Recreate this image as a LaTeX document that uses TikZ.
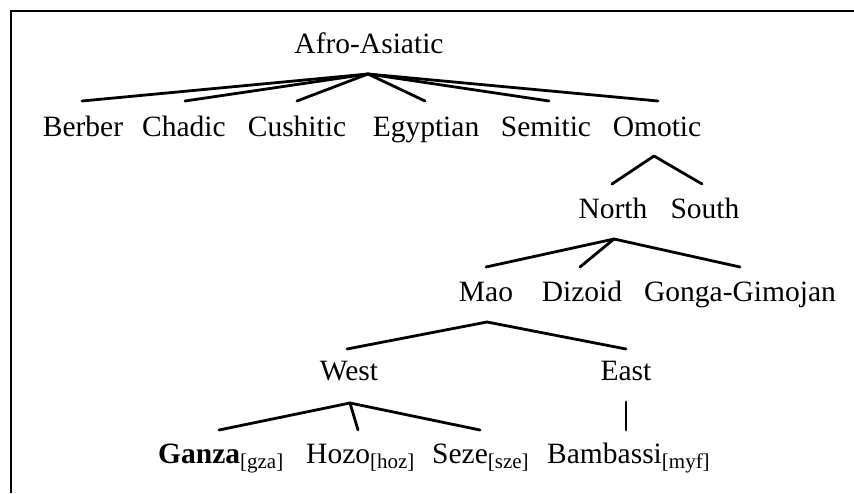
\documentclass[tikz,border=0pt]{standalone}
\usepackage{fontspec}
\setmainfont{Liberation Serif}
\newcommand{\lsub}[1]{\raisebox{-5pt}{\fontsize{21}{21}\selectfont[#1]}}
\tikzset{
  lbl/.style={anchor=base, inner sep=0pt, font=\fontsize{29.5}{34}\selectfont},
  edge/.style={line width=2.8pt, line cap=round, line join=round},
  frame/.style={line width=2.2pt}
}
\begin{document}
\begin{tikzpicture}[x=1pt, y=-1pt]
\useasboundingbox (0,0) rectangle (854,493);
% frame (top and left)
\coordinate (fTR) at (854,11);
\coordinate (fTL) at (11,11);
\coordinate (fBL) at (11,493);
\draw[frame] (fTR) -- (fTL) -- (fBL);

% level 0
\node[lbl] (aa) at (369,53) {Afro-Asiatic};
% level 1
\node[lbl] (berber) at (83,136) {Berber};
\node[lbl] (chadic) at (184,136) {Chadic};
\node[lbl] (cushitic) at (297,136) {Cushitic};
\node[lbl] (egyptian) at (426,136) {Egyptian};
\node[lbl] (semitic) at (546,136) {Semitic};
\node[lbl] (omotic) at (657,136) {Omotic};
% level 2
\node[lbl] (north) at (613,218) {North};
\node[lbl] (south) at (705,218) {South};
% level 3
\node[lbl] (mao) at (486,301) {Mao};
\node[lbl] (dizoid) at (582,301) {Dizoid};
\node[lbl] (gonga) at (740,301) {Gonga-Gimojan};
% level 4
\node[lbl] (west) at (349,380) {West};
\node[lbl] (east) at (626,380) {East};
% level 5
\node[lbl, anchor=base west] (ganza) at (158,463) {\textbf{Ganza}\lsub{gza}};
\node[lbl, anchor=base west] (hozo) at (306,463) {Hozo\lsub{hoz}};
\node[lbl, anchor=base west] (seze) at (432,463) {Seze\lsub{sze}};
\node[lbl, anchor=base west] (bambassi) at (547,463) {Bambassi\lsub{myf}};

% connector points
\coordinate (aa-b) at (368,74);
\coordinate (berber-t) at (82,101);
\coordinate (chadic-t) at (185,101);
\coordinate (cushitic-t) at (297,101);
\coordinate (egyptian-t) at (425,101);
\coordinate (semitic-t) at (549,101);
\coordinate (omotic-t) at (658,101);

\coordinate (omotic-b) at (654,156);
\coordinate (north-t) at (612,184);
\coordinate (south-t) at (702,184);

\coordinate (north-b) at (614,239);
\coordinate (mao-t) at (486,267);
\coordinate (dizoid-t) at (580,267);
\coordinate (gonga-t) at (740,267);

\coordinate (mao-b) at (487,322);
\coordinate (west-t) at (347,349);
\coordinate (east-t) at (626,349);

\coordinate (west-b) at (350,403);
\coordinate (ganza-t) at (219,430);
\coordinate (hozo-t) at (358,430);
\coordinate (seze-t) at (480,430);

\coordinate (east-b) at (626,402);
\coordinate (bambassi-t) at (626,430);

\foreach \c in {berber,chadic,cushitic,egyptian,semitic,omotic}
  \draw[edge] (aa-b) -- (\c-t);
\foreach \c in {north,south}
  \draw[edge] (omotic-b) -- (\c-t);
\foreach \c in {mao,dizoid,gonga}
  \draw[edge] (north-b) -- (\c-t);
\foreach \c in {west,east}
  \draw[edge] (mao-b) -- (\c-t);
\foreach \c in {ganza,hozo,seze}
  \draw[edge] (west-b) -- (\c-t);
\draw[edge] (east-b) -- (bambassi-t);
\end{tikzpicture}
\end{document}
